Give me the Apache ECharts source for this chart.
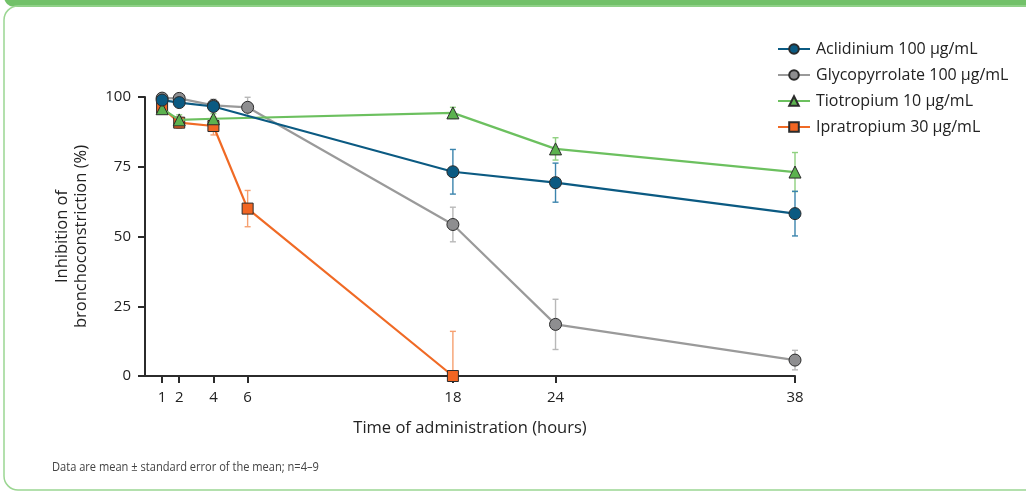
<!DOCTYPE html>
<html>
<head>
<meta charset="utf-8">
<script src="https://cdn.jsdelivr.net/npm/echarts@6/dist/echarts.min.js"></script>
<style>
  html, body { margin: 0; padding: 0; background: #fff; }
  #chart { width: 1026px; height: 492px; }
</style>
</head>
<body>
<div id="chart"></div>
<script>
// Time points (hours) shown on the x axis
const hourTicks = [1, 2, 4, 6, 18, 24, 38];
const yTicks = [0, 25, 50, 75, 100];

// Aclidinium 100 µg/mL
const aclidiniumHours = [1, 2, 4, 18, 24, 38];
const aclidiniumMean  = [98.9, 98.0, 96.6, 73.2, 69.3, 58.2];
const aclidiniumSem   = [0.8, 0.8, 1.2, 8.0, 7.0, 8.0];

// Glycopyrrolate 100 µg/mL
const glycoHours = [1, 2, 4, 6, 18, 24, 38];
const glycoMean  = [99.6, 99.5, 97.0, 96.3, 54.3, 18.5, 5.7];
const glycoSem   = [0.6, 0.6, 2.2, 3.6, 6.2, 9.0, 3.5];

// Tiotropium 10 µg/mL
const tioHours = [1, 2, 4, 18, 24, 38];
const tioMean  = [95.8, 91.8, 92.2, 94.3, 81.4, 73.1];
const tioSem   = [1.2, 1.8, 1.8, 2.0, 4.0, 7.0];

// Ipratropium 30 µg/mL
const iprHours = [1, 2, 4, 6, 18];
const iprMean  = [96.2, 90.8, 89.6, 60.0, 0.0];
const iprSem   = [1.2, 2.0, 3.2, 6.5, 16.0];

const FONT = '"Open Sans", "Noto Sans", sans-serif';

function pairs(xs, ys) { return xs.map((x, i) => [x, ys[i]]); }
function errRows(xs, ys, es) { return xs.map((x, i) => [x, Math.max(0, ys[i] - es[i]), ys[i] + es[i]]); }

function errorSeries(xs, ys, es, color, z) {
  return {
    type: 'custom',
    z: z,
    silent: true,
    data: errRows(xs, ys, es),
    encode: { x: 0, y: [1, 2] },
    renderItem: function (params, api) {
      const x = api.value(0);
      const lo = api.coord([x, api.value(1)]);
      const hi = api.coord([x, api.value(2)]);
      const cap = 3;
      const style = { stroke: color, lineWidth: 1.4 };
      return {
        type: 'group',
        children: [
          { type: 'line', shape: { x1: lo[0], y1: lo[1], x2: hi[0], y2: hi[1] }, style: style },
          { type: 'line', shape: { x1: hi[0] - cap, y1: hi[1], x2: hi[0] + cap, y2: hi[1] }, style: style },
          { type: 'line', shape: { x1: lo[0] - cap, y1: lo[1], x2: lo[0] + cap, y2: lo[1] }, style: style }
        ]
      };
    }
  };
}

function lineSeries(name, xs, ys, lineColor, fillColor, symbol, size, z) {
  return {
    name: name,
    type: 'line',
    z: z,
    data: pairs(xs, ys),
    symbol: symbol,
    symbolSize: size,
    showAllSymbol: true,
    lineStyle: { color: lineColor, width: 2.2 },
    itemStyle: { color: fillColor, borderColor: '#2b2b2b', borderWidth: 1 },
    emphasis: { disabled: true }
  };
}

const chart = echarts.init(document.getElementById('chart'), null, { renderer: 'canvas' });

chart.setOption({
  backgroundColor: '#ffffff',
  animation: false,
  grid: { left: 145, right: 231, top: 97, bottom: 116, containLabel: false },
  legend: {
    orient: 'vertical',
    left: 772,
    top: 36,
    itemWidth: 32,
    itemHeight: 12,
    itemGap: 10,
    textStyle: { fontFamily: FONT, fontSize: 16, color: '#222', padding: [0, 0, 0, 1] },
    data: ['Aclidinium 100 µg/mL', 'Glycopyrrolate 100 µg/mL', 'Tiotropium 10 µg/mL', 'Ipratropium 30 µg/mL']
  },
  xAxis: {
    type: 'value',
    min: 0,
    max: 38,
    name: 'Time of administration (hours)',
    nameLocation: 'middle',
    nameGap: 44,
    nameTextStyle: { fontFamily: FONT, fontSize: 16.5, color: '#222' },
    splitLine: { show: false },
    axisLine: { show: true, lineStyle: { color: '#2b2b2b', width: 2 } },
    axisTick: { show: true, customValues: hourTicks, length: 7, lineStyle: { color: '#2b2b2b', width: 2 } },
    axisLabel: { customValues: hourTicks, margin: 14, fontFamily: FONT, fontSize: 15, color: '#222' }
  },
  yAxis: {
    type: 'value',
    min: 0,
    max: 100,
    interval: 25,
    name: 'Inhibition of\nbronchoconstriction (%)',
    nameLocation: 'middle',
    nameGap: 54,
    nameRotate: 90,
    nameTextStyle: { fontFamily: FONT, fontSize: 16.5, color: '#222', lineHeight: 19 },
    splitLine: { show: false },
    axisLine: { show: true, lineStyle: { color: '#2b2b2b', width: 2 } },
    axisTick: { show: true, customValues: yTicks, length: 7, lineStyle: { color: '#2b2b2b', width: 2 } },
    axisLabel: { customValues: yTicks, margin: 14, fontFamily: FONT, fontSize: 15, color: '#222' }
  },
  graphic: [
    { type: 'rect', z: 0, shape: { x: 4, y: -14, width: 1040, height: 21, r: 11 }, style: { fill: '#72c169' } },
    { type: 'rect', z: 0, shape: { x: 4, y: 6, width: 1040, height: 484, r: 14 }, style: { fill: 'none', stroke: '#9bd692', lineWidth: 1.5 } },
    { type: 'text', z: 10, x: 52, y: 467, scaleX: 0.88, style: { text: 'Data are mean ± standard error of the mean; n=4–9', fontFamily: FONT, fontSize: 12.6, fill: '#444', verticalAlign: 'middle' } }
  ],
  series: [
    errorSeries(glycoHours, glycoMean, glycoSem, '#b8b8b8', 1),
    errorSeries(iprHours, iprMean, iprSem, '#f6a070', 1),
    errorSeries(tioHours, tioMean, tioSem, '#8fd07f', 1),
    errorSeries(aclidiniumHours, aclidiniumMean, aclidiniumSem, '#3b84ad', 1),
    lineSeries('Glycopyrrolate 100 µg/mL', glycoHours, glycoMean, '#9a9a9a', '#8e8e90', 'circle', 12, 2),
    lineSeries('Ipratropium 30 µg/mL', iprHours, iprMean, '#f06a25', '#f26522', 'rect', 11, 3),
    lineSeries('Tiotropium 10 µg/mL', tioHours, tioMean, '#6cc05f', '#5cb24f', 'triangle', 12, 4),
    lineSeries('Aclidinium 100 µg/mL', aclidiniumHours, aclidiniumMean, '#0b5a82', '#0b5a82', 'circle', 12, 5)
  ]
});
</script>
</body>
</html>
